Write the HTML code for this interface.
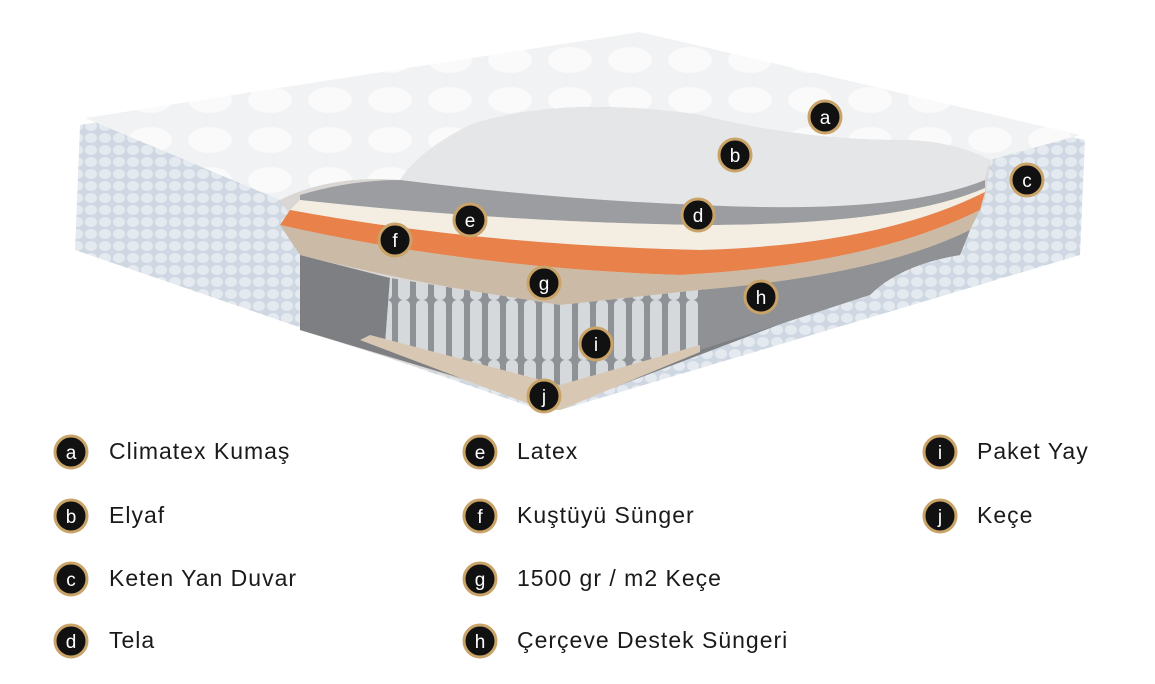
<!DOCTYPE html>
<html><head><meta charset="utf-8"><style>
body{margin:0;background:#fff;width:1155px;height:684px;overflow:hidden;font-family:"Liberation Sans",sans-serif}
svg{position:absolute;left:0;top:0}
</style></head><body>
<svg width="1155" height="684" viewBox="0 0 1155 684">
<defs>
<pattern id="q" width="14" height="12" patternUnits="userSpaceOnUse"><rect width="14" height="12" fill="#cfd8e2"/><ellipse cx="7" cy="6" rx="6" ry="5" fill="#e4eaf0"/></pattern>
<pattern id="sp" width="18" height="60" patternUnits="userSpaceOnUse"><rect width="18" height="60" fill="#8e9296"/><rect x="2" width="12" height="60" rx="5" fill="#d6d9dc"/></pattern>
<pattern id="tq" width="60" height="40" patternUnits="userSpaceOnUse"><rect width="60" height="40" fill="#f1f2f3"/><ellipse cx="30" cy="20" rx="22" ry="13" fill="#fafafa"/></pattern>
</defs>
<path d="M80,125 L640,35 L1085,140 L1080,255 L560,410 L540,410 L75,250 Z" fill="url(#q)"/>
<path d="M85,118 L640,32 L1080,135 L990,160 Q950,140 900,140 Q800,140 700,115 Q560,95 470,125 Q420,150 400,180 Q330,175 280,200 Z" fill="url(#tq)"/>
<path d="M280,200 Q330,175 400,180 Q420,150 470,125 Q560,95 700,115 Q800,140 900,140 Q950,140 990,160 L985,200 Q920,230 860,275 L560,405 L540,405 L300,330 L300,230 Z" fill="#d9d6d3"/>
<path d="M400,180 Q420,150 470,125 Q560,95 700,115 Q800,140 900,140 Q950,140 990,160 L985,180 Q900,215 700,205 Q560,200 400,180Z" fill="#e5e6e7"/>
<path d="M300,195 Q350,180 400,180 Q560,200 700,205 Q900,215 985,180 L985,188 Q900,225 700,225 Q500,222 300,200Z" fill="#9b9da0"/>
<path d="M300,200 Q500,222 700,225 Q900,225 985,188 L985,178 L985,192 Q880,245 700,250 Q480,245 290,210Z" fill="#f3ede2"/>
<path d="M290,210 Q480,245 700,250 Q880,245 985,192 L980,210 Q870,265 680,275 Q470,268 280,225Z" fill="#e9814a"/>
<path d="M280,225 Q470,268 680,275 Q870,265 980,210 L970,230 Q880,275 700,290 L560,305 Q420,285 300,255Z" fill="#cbbba6"/>
<path d="M300,255 L390,278 L385,345 L540,395 L560,405 L700,350 L700,290 Q880,275 970,230 L960,255 Q900,260 870,290 L560,408 L300,330 Z" fill="#7d7f82"/>
<path d="M700,290 Q880,275 970,230 L960,255 Q900,265 870,295 L700,350Z" fill="#8f9194"/>
<path d="M390,278 L560,305 L700,290 L700,350 L560,400 L385,345Z" fill="url(#sp)"/>
<path d="M370,335 L560,385 L700,345 L700,352 L560,410 L545,410 L360,340Z" fill="#d8c7b2"/>
<g font-family="Liberation Sans,sans-serif" font-size="19" fill="#fff" text-anchor="middle">
<g stroke="#c9a368" stroke-width="3" fill="#111">
<circle cx="825" cy="117" r="16"/><circle cx="735" cy="155" r="16"/><circle cx="1027" cy="180" r="16"/><circle cx="698" cy="215" r="16"/><circle cx="470" cy="220" r="16"/><circle cx="395" cy="240" r="16"/><circle cx="544" cy="283" r="16"/><circle cx="761" cy="297" r="16"/><circle cx="596" cy="344" r="16"/><circle cx="544" cy="396" r="16"/>
<circle cx="71" cy="452" r="16"/><circle cx="71" cy="516" r="16"/><circle cx="71" cy="579" r="16"/><circle cx="71" cy="641" r="16"/>
<circle cx="480" cy="452" r="16"/><circle cx="480" cy="516" r="16"/><circle cx="480" cy="579" r="16"/><circle cx="480" cy="641" r="16"/>
<circle cx="940" cy="452" r="16"/><circle cx="940" cy="516" r="16"/>
</g>
<text x="825" y="124">a</text><text x="735" y="162">b</text><text x="1027" y="187">c</text><text x="698" y="222">d</text><text x="470" y="227">e</text><text x="395" y="247">f</text><text x="544" y="290">g</text><text x="761" y="304">h</text><text x="596" y="351">i</text><text x="544" y="403">j</text>
<text x="71" y="459">a</text><text x="71" y="523">b</text><text x="71" y="586">c</text><text x="71" y="648">d</text>
<text x="480" y="459">e</text><text x="480" y="523">f</text><text x="480" y="586">g</text><text x="480" y="648">h</text>
<text x="940" y="459">i</text><text x="940" y="523">j</text>
</g>
<g font-family="Liberation Sans,sans-serif" font-size="23" letter-spacing="1" fill="#1a1a1a">
<text x="109" y="459">Climatex Kumaş</text><text x="109" y="523">Elyaf</text><text x="109" y="586">Keten Yan Duvar</text><text x="109" y="648">Tela</text>
<text x="517" y="459">Latex</text><text x="517" y="523">Kuştüyü Sünger</text><text x="517" y="586">1500 gr / m2 Keçe</text><text x="517" y="648">Çerçeve Destek Süngeri</text>
<text x="977" y="459">Paket Yay</text><text x="977" y="523">Keçe</text>
</g>
</svg>
</body></html>
